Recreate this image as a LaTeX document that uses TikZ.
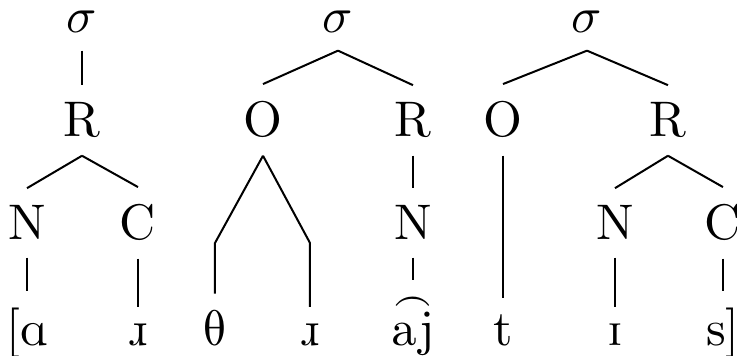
\documentclass[tikz,border=0pt]{standalone}
\usepackage{tipa}
\tikzset{
  syl/.style={anchor=base},
  cat/.style={anchor=base},
  seg/.style={anchor=base},
  branch/.style={line width=0.4pt, draw=black},
}

\begin{document}
\begin{tikzpicture}[x=0.2pt, y=-0.2pt]
\useasboundingbox (0,0) rectangle (737,356);

% === ROW 1: syllables ===
\node[syl] (s1) at (82,33) {$\sigma$};
\node[syl] (s2) at (338,33) {$\sigma$};
\node[syl] (s3) at (587,33) {$\sigma$};

% === ROW 2: onsets and rimes ===
\node[cat] (r1) at (82,137) {R};
\node[cat] (o2) at (263,137) {O};
\node[cat] (r2) at (413,137) {R};
\node[cat] (o3) at (503,137) {O};
\node[cat] (r3) at (668,137) {R};

% === ROW 3: nuclei and codas ===
\node[cat] (n1) at (27,240) {N};
\node[cat] (c1) at (138,240) {C};
\node[cat] (n2) at (413,240) {N};
\node[cat] (n3) at (615,240) {N};
\node[cat] (c3) at (723,240) {C};

% === ROW 4: segments ===
\node[seg] (a1) at (27,346) {[\textipa{A}};
\node[seg] (rr1) at (138,346) {\textipa{\*r}};
\node[seg] (th) at (215,346) {\textipa{T}};
\node[seg] (rr2) at (310,346) {\textipa{\*r}};
\node[seg] (aj) at (413,346) {\textipa{\t{aj}}};
\node[seg] (t) at (503,346) {t};
\node[seg] (ii) at (615,346) {\textipa{I}};
\node[seg] (ss) at (723,346) {s]};

% bends under the onset O
\coordinate (kth) at (215,243);
\coordinate (krr) at (310,243);

% tree 1
\draw[branch] (s1.south) -- (r1.north);
\draw[branch] (r1.south) -- (n1.north);
\draw[branch] (r1.south) -- (c1.north);
\draw[branch] (n1.south) -- (a1.north);
\draw[branch] (c1.south) -- (rr1.north);

% tree 2
\draw[branch] (s2.south) -- (o2.north);
\draw[branch] (s2.south) -- (r2.north);
\draw[branch] (o2.south) -- (kth) -- (th.north);
\draw[branch] (o2.south) -- (krr) -- (rr2.north);
\draw[branch] (r2.south) -- (n2.north);
\draw[branch] (n2.south) -- (aj.north);

% tree 3
\draw[branch] (s3.south) -- (o3.north);
\draw[branch] (s3.south) -- (r3.north);
\draw[branch] (o3.south) -- (t.north);
\draw[branch] (r3.south) -- (n3.north);
\draw[branch] (r3.south) -- (c3.north);
\draw[branch] (n3.south) -- (ii.north);
\draw[branch] (c3.south) -- (ss.north);

\end{tikzpicture}
\end{document}
